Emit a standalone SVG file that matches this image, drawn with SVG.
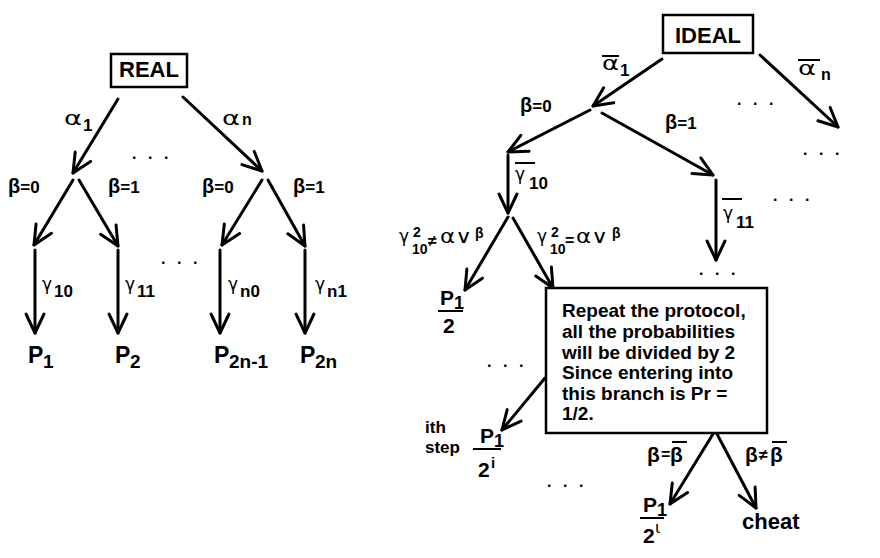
<svg xmlns="http://www.w3.org/2000/svg" width="880" height="558" viewBox="0 0 880 558">
<defs>
<marker id="ah" markerUnits="userSpaceOnUse" markerWidth="30" markerHeight="30" viewBox="-25 -15 30 30" refX="0" refY="0" orient="auto" overflow="visible">
<path d="M-19,-9 L0,0 L-19,9" fill="none" stroke="#000" stroke-width="3" stroke-linecap="round" stroke-linejoin="round"/>
</marker>
</defs>
<style>
.s{font-family:"Liberation Sans",Arial,sans-serif;font-weight:bold;fill:#000}
.g{font-family:"DejaVu Sans","Liberation Sans",sans-serif;fill:#000}
.al{font-family:"DejaVu Sans","Liberation Sans",sans-serif;font-size:20px;fill:#000}
.box{fill:#fff;stroke:#000;stroke-width:2.5}
.ln{fill:none;stroke:#000;stroke-width:3;stroke-linecap:round;marker-end:url(#ah)}
.bar{stroke:#000;stroke-width:2}
.dots{font-family:"Liberation Sans",Arial,sans-serif;font-weight:bold;font-size:16px;letter-spacing:11.5px;fill:#000}
</style>
<rect width="880" height="558" fill="#fff"/>

<g id="connectors">
<line class="ln" x1="118" y1="99" x2="73" y2="173"/>
<line class="ln" x1="183" y1="97" x2="262" y2="171"/>
<line class="ln" x1="73" y1="180" x2="34" y2="245"/>
<line class="ln" x1="79" y1="180" x2="118" y2="246"/>
<line class="ln" x1="262" y1="180" x2="222" y2="245"/>
<line class="ln" x1="268" y1="180" x2="305" y2="246"/>
<line class="ln" x1="35" y1="250" x2="35" y2="333"/>
<line class="ln" x1="118" y1="250" x2="118" y2="333"/>
<line class="ln" x1="220" y1="250" x2="220" y2="333"/>
<line class="ln" x1="305" y1="250" x2="305" y2="333"/>
<line class="ln" x1="662" y1="59" x2="593" y2="106"/>
<line class="ln" x1="760" y1="55" x2="838" y2="127"/>
<line class="ln" x1="590" y1="110" x2="508" y2="152"/>
<line class="ln" x1="602" y1="113" x2="713" y2="175"/>
<line class="ln" x1="508" y1="155" x2="508" y2="213"/>
<line class="ln" x1="716" y1="180" x2="716" y2="260"/>
<line class="ln" x1="508" y1="217" x2="465" y2="290"/>
<line class="ln" x1="513" y1="218" x2="553" y2="288"/>
<line class="ln" x1="545" y1="378" x2="502" y2="430"/>
<line class="ln" x1="713" y1="434" x2="670" y2="504"/>
<line class="ln" x1="717" y1="434" x2="756" y2="508"/>
</g>

<g id="real">
<rect class="box" x="111" y="54" width="76" height="33"/>
<text class="s" x="149" y="77" font-size="22" text-anchor="middle">REAL</text>
</g>

<g id="ideal">
<rect class="box" x="663" y="15" width="90" height="38"/>
<text class="s" x="708" y="43" font-size="22" text-anchor="middle">IDEAL</text>
</g>

<g id="left-labels">
<text class="al" x="64" y="125" textLength="18" lengthAdjust="spacingAndGlyphs">α</text>
<text class="s" x="83" y="131" font-size="17">1</text>
<text class="al" x="222" y="125" textLength="18" lengthAdjust="spacingAndGlyphs">α</text>
<text class="s" x="242" y="125" font-size="16">n</text>
<text class="s" x="8" y="193"><tspan font-size="20">β</tspan><tspan font-size="17">=0</tspan></text>
<text class="s" x="108" y="193"><tspan font-size="20">β</tspan><tspan font-size="17">=1</tspan></text>
<text class="s" x="202" y="193"><tspan font-size="20">β</tspan><tspan font-size="17">=0</tspan></text>
<text class="s" x="293" y="193"><tspan font-size="20">β</tspan><tspan font-size="17">=1</tspan></text>
<text x="42" y="290"><tspan class="g" font-size="17">γ</tspan><tspan class="s" font-size="17" x="54" y="297">10</tspan></text>
<text x="125" y="290"><tspan class="g" font-size="17">γ</tspan><tspan class="s" font-size="17" x="137" y="297">11</tspan></text>
<text x="228" y="290"><tspan class="g" font-size="17">γ</tspan><tspan class="s" font-size="17" x="240" y="297">n0</tspan></text>
<text x="315" y="290"><tspan class="g" font-size="17">γ</tspan><tspan class="s" font-size="17" x="327" y="297">n1</tspan></text>
</g>

<g id="leaves-real">
<text class="s" x="28" y="363" font-size="23">P<tspan font-size="19" x="43" y="368">1</tspan></text>
<text class="s" x="115" y="363" font-size="23">P<tspan font-size="19" x="130" y="368">2</tspan></text>
<text class="s" x="214" y="363" font-size="23">P<tspan font-size="19" x="229" y="368">2n-1</tspan></text>
<text class="s" x="300" y="363" font-size="23">P<tspan font-size="19" x="315" y="368">2n</tspan></text>
</g>

<g id="dots">
<text class="dots" x="132" y="159">...</text>
<text class="dots" x="161" y="264">...</text>
<text class="dots" x="737" y="105">...</text>
<text class="dots" x="803" y="155">...</text>
<text class="dots" x="773" y="201">...</text>
<text class="dots" x="699" y="275">...</text>
<text class="dots" x="487" y="367">...</text>
<text class="dots" x="547" y="487">...</text>
</g>

<g id="right-labels">
<line class="bar" x1="602" y1="56" x2="619" y2="56"/>
<text class="al" x="602" y="70" textLength="17" lengthAdjust="spacingAndGlyphs">α</text>
<text class="s" x="620" y="76" font-size="17">1</text>
<line class="bar" x1="798" y1="60" x2="820" y2="60"/>
<text class="al" x="798" y="75" textLength="18" lengthAdjust="spacingAndGlyphs">α</text>
<text class="s" x="821" y="80" font-size="16">n</text>
<text class="s" x="520" y="112"><tspan font-size="20">β</tspan><tspan font-size="17">=0</tspan></text>
<text class="s" x="665" y="129"><tspan font-size="20">β</tspan><tspan font-size="17">=1</tspan></text>
<line class="bar" x1="515" y1="163" x2="535" y2="163"/>
<text x="515" y="180"><tspan class="g" font-size="17">γ</tspan><tspan class="s" font-size="17" x="529" y="189">10</tspan></text>
<line class="bar" x1="722" y1="199" x2="742" y2="199"/>
<text x="723" y="219"><tspan class="g" font-size="17">γ</tspan><tspan class="s" font-size="17" x="736" y="228">11</tspan></text>
</g>

<g id="cond-labels">
<text x="399" y="242"><tspan class="g" font-size="17">γ</tspan><tspan class="s" font-size="14" x="413" y="237">2</tspan><tspan class="s" font-size="14" x="412" y="254">10</tspan><tspan class="s" font-size="16" x="428" y="246">≠</tspan></text>
<text class="g" x="440" y="243" font-size="19" textLength="32" lengthAdjust="spacingAndGlyphs">α∨</text>
<text class="s" x="475" y="238" font-size="14">β</text>
<text x="537" y="242"><tspan class="g" font-size="17">γ</tspan><tspan class="s" font-size="14" x="551" y="237">2</tspan><tspan class="s" font-size="14" x="550" y="254">10</tspan><tspan class="s" font-size="16" x="565" y="246">=</tspan></text>
<text class="g" x="576" y="243" font-size="19" textLength="32" lengthAdjust="spacingAndGlyphs">α∨</text>
<text class="s" x="612" y="238" font-size="14">β</text>
</g>

<g id="half">
<text class="s" x="440" y="305" font-size="21">P<tspan font-size="18" x="454" y="309">1</tspan></text>
<line class="bar" x1="438" y1="311" x2="463" y2="311" stroke-width="2.5"/>
<text class="s" x="443" y="333" font-size="21">2</text>
</g>

<g id="repeat-box">
<rect class="box" x="546" y="288" width="221" height="145"/>
<text class="s" font-size="19">
<tspan x="562" y="317">Repeat the protocol,</tspan>
<tspan x="562" y="338">all the probabilities</tspan>
<tspan x="562" y="359">will be divided by 2</tspan>
<tspan x="562" y="379">Since entering into</tspan>
<tspan x="562" y="400">this branch is Pr =</tspan>
<tspan x="562" y="420">1/2.</tspan>
</text>
</g>

<g id="ith-step">
<text class="s" font-size="17"><tspan x="425" y="433">ith</tspan><tspan x="425" y="453">step</tspan></text>
<text class="s" x="480" y="443" font-size="21">P<tspan font-size="18" x="494" y="447">1</tspan></text>
<line class="bar" x1="473" y1="449" x2="501" y2="449" stroke-width="2.5"/>
<text class="s" x="478" y="477" font-size="21">2<tspan font-size="15" x="491" y="468">i</tspan></text>
</g>

<g id="final-labels">
<text class="s" x="647" y="462"><tspan font-size="21">β</tspan><tspan font-size="16" x="661" y="460">=</tspan><tspan font-size="21" x="670" y="462">β</tspan></text>
<line class="bar" x1="672" y1="442" x2="687" y2="442"/>
<text class="s" x="745" y="462"><tspan font-size="21">β</tspan><tspan font-size="16" x="759" y="460">≠</tspan><tspan font-size="21" x="770" y="462">β</tspan></text>
<line class="bar" x1="772" y1="442" x2="787" y2="442"/>
</g>

<g id="leaf-final">
<text class="s" x="643" y="512" font-size="21">P<tspan font-size="18" x="657" y="516">1</tspan></text>
<line class="bar" x1="640" y1="518" x2="664" y2="518" stroke-width="2.5"/>
<text x="643" y="543"><tspan class="s" font-size="21">2</tspan><tspan class="g" font-size="16" x="655" y="533">ι</tspan></text>
</g>

<g id="cheat">
<text class="s" x="742" y="529" font-size="22">cheat</text>
</g>
</svg>
